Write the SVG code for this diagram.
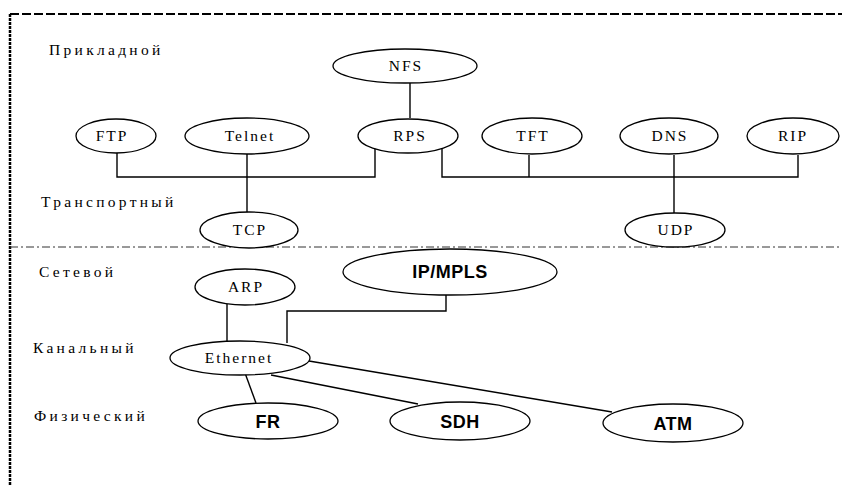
<svg xmlns="http://www.w3.org/2000/svg" width="842" height="485" viewBox="0 0 842 485">
<style>
.lbl{font-family:"Liberation Serif","DejaVu Serif",serif;font-size:15.5px;letter-spacing:3.3px;fill:#000}
.st{font-family:"Liberation Serif","DejaVu Serif",serif;font-size:15.5px;letter-spacing:2px;fill:#000;text-anchor:middle}
.bd{font-family:"Liberation Sans",Arial,sans-serif;font-size:18px;font-weight:bold;letter-spacing:0.5px;fill:#000;text-anchor:middle}
ellipse{fill:#fff;stroke:#000;stroke-width:1.3}
.c{fill:none;stroke:#000;stroke-width:1.4}
</style>
<rect width="842" height="485" fill="#fff"/>
<g id="frame">
<line x1="10" y1="14" x2="842" y2="14" stroke="#000" stroke-width="2" stroke-dasharray="9,3"/>
<line x1="10" y1="14" x2="10" y2="485" stroke="#000" stroke-width="2.5" stroke-dasharray="3,1"/>
<line x1="10" y1="247" x2="842" y2="247" stroke="#333" stroke-width="1" stroke-dasharray="8,3,2,3"/>
</g>
<g id="layers">
<text class="lbl" x="49" y="55">Прикладной</text>
<text class="lbl" x="41" y="207">Транспортный</text>
<text class="lbl" x="39" y="277">Сетевой</text>
<text class="lbl" x="33" y="353">Канальный</text>
<text class="lbl" x="34" y="421">Физический</text>
</g>
<g id="connectors">
<path class="c" d="M410 83V118"/>
<path class="c" d="M117 153V177H375V148"/>
<path class="c" d="M247 154V212"/>
<path class="c" d="M442 148V177H798V155"/>
<path class="c" d="M529 155V177"/>
<path class="c" d="M674 155V213"/>
<path class="c" d="M227 304V341"/>
<path class="c" d="M287 343V311H446V295"/>
<path class="c" d="M245 373L256 403"/>
<path class="c" d="M271 375L418 404"/>
<path class="c" d="M309 361L612 412"/>
</g>
<g id="NFS"><ellipse cx="405" cy="66" rx="72" ry="17"/><text class="st" x="406" y="71">NFS</text></g>
<g id="FTP"><ellipse cx="116" cy="136" rx="40" ry="17"/><text class="st" x="112" y="141">FTP</text></g>
<g id="Telnet"><ellipse cx="247" cy="136" rx="62" ry="18"/><text class="st" x="250" y="141">Telnet</text></g>
<g id="RPS"><ellipse cx="408" cy="136" rx="50" ry="17"/><text class="st" x="410" y="141">RPS</text></g>
<g id="TFT"><ellipse cx="532" cy="136" rx="50" ry="18"/><text class="st" x="533" y="141">TFT</text></g>
<g id="DNS"><ellipse cx="669" cy="136" rx="49" ry="18"/><text class="st" x="670" y="141">DNS</text></g>
<g id="RIP"><ellipse cx="793" cy="136" rx="46" ry="18"/><text class="st" x="793" y="141">RIP</text></g>
<g id="TCP"><ellipse cx="249" cy="230" rx="49" ry="18"/><text class="st" x="250" y="235">TCP</text></g>
<g id="UDP"><ellipse cx="675" cy="230" rx="50" ry="17"/><text class="st" x="676" y="235">UDP</text></g>
<g id="IPMPLS"><ellipse cx="450" cy="272" rx="107" ry="23"/><text class="bd" x="450" y="278">IP/MPLS</text></g>
<g id="ARP"><ellipse cx="245" cy="287" rx="50" ry="18"/><text class="st" x="246" y="292">ARP</text></g>
<g id="Ethernet"><ellipse cx="240" cy="358" rx="70" ry="17"/><text class="st" x="239" y="363">Ethernet</text></g>
<g id="FR"><ellipse cx="268" cy="421" rx="70" ry="18"/><text class="bd" x="268" y="428">FR</text></g>
<g id="SDH"><ellipse cx="460" cy="421" rx="70" ry="19"/><text class="bd" x="460" y="428">SDH</text></g>
<g id="ATM"><ellipse cx="673" cy="423" rx="70" ry="19"/><text class="bd" x="673" y="430">ATM</text></g>
</svg>
